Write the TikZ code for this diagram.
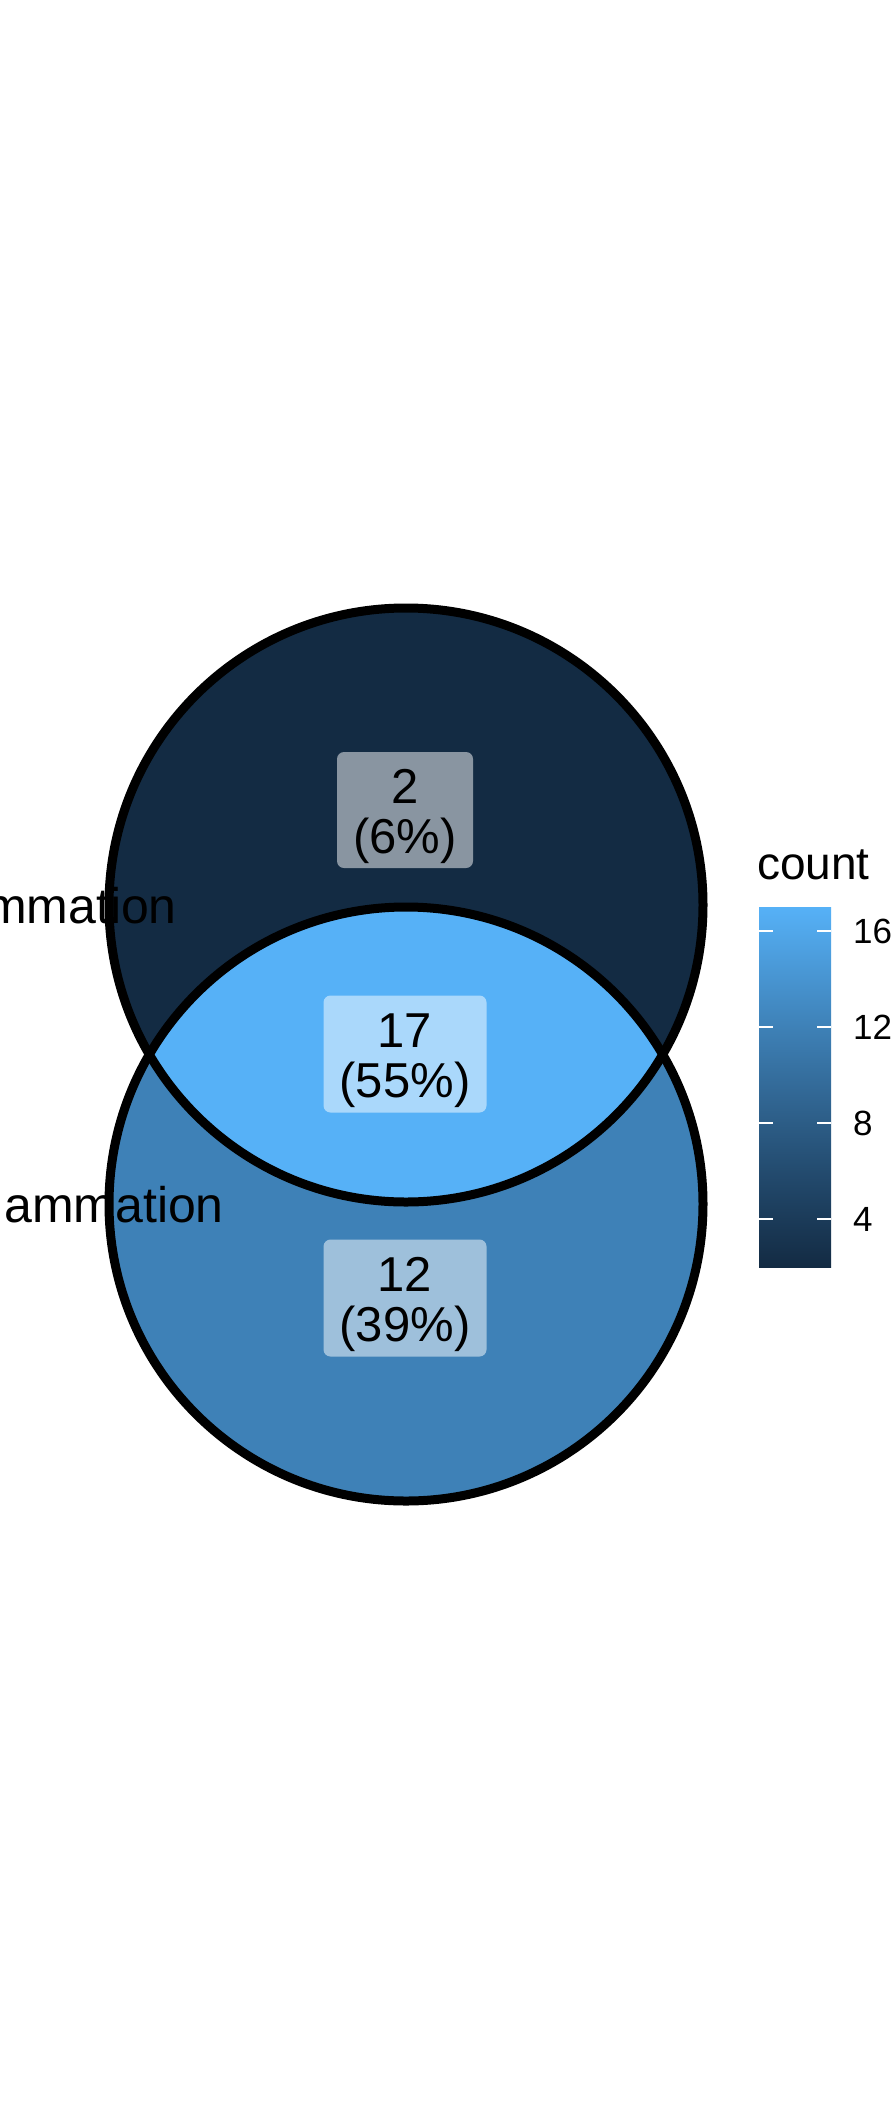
\documentclass[tikz,border=0pt]{standalone}
\usepackage{fontspec}
\setmainfont{Liberation Sans}
\definecolor{cLow}{HTML}{132B43}
\definecolor{cA}{HTML}{22496C}
\definecolor{cB}{HTML}{336A98}
\definecolor{cMid}{HTML}{3E81B7}
\definecolor{cHigh}{HTML}{56B1F7}
\pgfdeclareverticalshading{cbarshade}{100bp}{color(0bp)=(cLow); color(25bp)=(cLow); color(37.5bp)=(cA); color(50bp)=(cB); color(58.333bp)=(cMid); color(75bp)=(cHigh); color(100bp)=(cHigh)}
\begin{document}
\begin{tikzpicture}[x=1pt,y=-1pt,
  setline/.style={draw=black, line width=9pt},
  lblbox/.style={fill=white, fill opacity=0.5, rounded corners=7pt, inner sep=0pt, draw=none},
  lbltext/.style={align=center, inner sep=0pt, font=\fontsize{49}{50}\selectfont},
  setlbl/.style={inner sep=0pt, font=\fontsize{50}{52}\selectfont},
  tickw/.style={draw=white, line width=1.5pt},
  ticklbl/.style={anchor=west, inner sep=0pt, font=\fontsize{35}{38}\selectfont}]
\useasboundingbox (0,0) rectangle (895,2108);
\fill[white] (0,0) rectangle (895,2108);
\coordinate (A) at (406,905);
\coordinate (B) at (406,1204);
% region fills
\fill[cLow] (A) circle[radius=297];
\fill[cMid] (B) circle[radius=297];
\begin{scope}
  \clip (A) circle[radius=297];
  \fill[cHigh] (B) circle[radius=297];
\end{scope}
\draw[setline] (A) circle[radius=297];
\draw[setline] (B) circle[radius=297];
% count labels
\node[lblbox, minimum width=136pt, minimum height=116pt] (b2) at (405,810) {};
\node[lbltext] (t2) at ([yshift=-6.5pt]b2.center) {2\\(6\%)};
\node[lblbox, minimum width=163pt, minimum height=117pt] (b17) at (405,1054) {};
\node[lbltext] (t17) at ([yshift=-6.5pt]b17.center) {17\\(55\%)};
\node[lblbox, minimum width=163pt, minimum height=117pt] (b12) at (405,1298) {};
\node[lbltext] (t12) at ([yshift=-6.5pt]b12.center) {12\\(39\%)};
% set labels
\node[setlbl, anchor=base east] (s1) at (177,923) {mmation};
\node[setlbl, anchor=base east] (s2) at (224,1222) {ammation};
% legend
\node[anchor=base west, inner sep=0pt, font=\fontsize{46}{50}\selectfont] (ttl) at (757,879) {count};
\node[shade, shading=cbarshade, minimum width=72pt, minimum height=360pt, inner sep=0pt] (bar) at (795,1087) {};
\foreach \v/\yy in {16/931,12/1027,8/1123,4/1219}{
  \coordinate (tl\v) at (759,\yy);
  \coordinate (tm\v) at (773,\yy);
  \coordinate (tn\v) at (817,\yy);
  \coordinate (tr\v) at (831,\yy);
  \draw[tickw] (tl\v) -- (tm\v);
  \draw[tickw] (tn\v) -- (tr\v);
  \node[ticklbl] (lab\v) at (853,\yy) {\v};
}
\end{tikzpicture}
\end{document}
